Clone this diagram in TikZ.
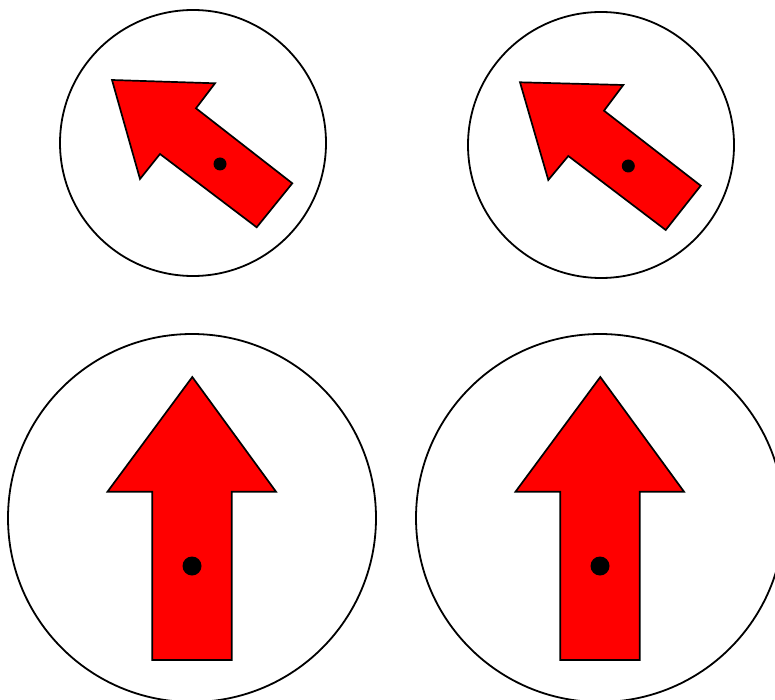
\documentclass[tikz,border=0pt]{standalone}
\begin{document}
\begin{tikzpicture}[x=1pt,y=-1pt,
  ring/.style={draw=black,line width=1.8pt,fill=white},
  arrowshape/.style={draw=black,fill=red,line width=1.7pt,line join=miter},
  pivot/.style={fill=black}]
\useasboundingbox (0,0) rectangle (775,700);
% top left
\draw[ring] (193,143) circle (133);
\draw[arrowshape] (112,80) -- (215,83.3) -- (196,108.3) -- (292.3,183.3) -- (256.7,227.3) -- (160,154) -- (140,179) -- cycle;
\fill[pivot] (220,164) circle (6.5);
% top right
\draw[ring] (601,145) circle (133);
\draw[arrowshape] (520,82.3) -- (623.3,85) -- (604,110.7) -- (700.7,185.7) -- (665.7,230) -- (568.3,156) -- (548.3,180) -- cycle;
\fill[pivot] (628.3,166) circle (6.5);
% bottom left
\draw[ring] (192,518) circle (184);
\draw[arrowshape] (192.3,377) -- (276,491.7) -- (231.7,491.7) -- (231.7,660) -- (152.3,660) -- (152.3,491.7) -- (107.5,491.7) -- cycle;
\fill[pivot] (192,566) circle (9.5);
% bottom right
\draw[ring] (600,518) circle (184);
\draw[arrowshape] (600.3,377) -- (684,491.7) -- (639.7,491.7) -- (639.7,660) -- (560.3,660) -- (560.3,491.7) -- (515.5,491.7) -- cycle;
\fill[pivot] (600,566) circle (9.5);
\end{tikzpicture}
\end{document}
